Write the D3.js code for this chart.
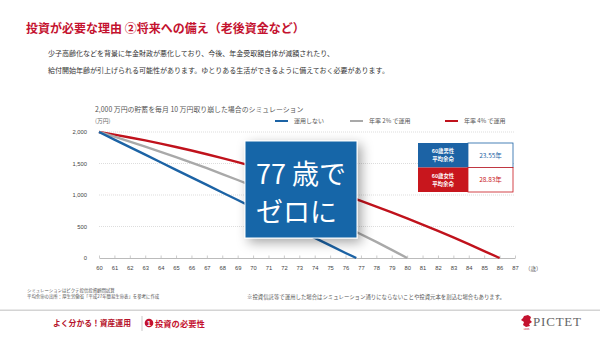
<!DOCTYPE html>
<html>
<head>
<meta charset="utf-8">
<script src="https://cdn.jsdelivr.net/npm/d3@7/dist/d3.min.js"></script>
<style>
  body { margin: 0; background: #fff; }
  svg { display: block; font-family: "Noto Sans CJK JP", "Noto Sans", sans-serif; }
</style>
</head>
<body>
<svg id="chart" width="600" height="338"></svg>
<script>
// ages on the x axis
var ageTicks = [60, 61, 62, 63, 64, 65, 66, 67, 68, 69, 70, 71, 72, 73, 74, 75, 76, 77, 78, 79, 80, 81, 82, 83, 84, 85, 86, 87];
var valueTicks = [0, 500, 1000, 1500, 2000];

// balance (万円) at each age from 60, last entry is where it hits zero
var noInvest = [2000, 1880, 1760, 1640, 1520, 1400, 1280, 1160, 1040, 920, 800, 680, 560, 440, 320, 200, 80, 0];
var noInvestEnd = 76.7;
var rate2 = [2000, 1925, 1848, 1768, 1686, 1602, 1515, 1425, 1333, 1238, 1140, 1040, 937, 831, 722, 610, 495, 377, 256, 130, 0];
var rate2End = 80;
var rate4 = [2000, 1958, 1913, 1866, 1815, 1762, 1706, 1647, 1586, 1521, 1454, 1384, 1311, 1236, 1157, 1076, 992, 905, 816, 723, 628, 530, 429, 326, 219, 110, 0];
var rate4End = 86;

var seriesNames = ["運用しない", "年率 2% で運用", "年率 4% で運用"];
var seriesColors = ["#1c63a5", "#a9a9a9", "#c0121c"];

var lifeLabels = [["60歳男性", "平均余命"], ["60歳女性", "平均余命"]];
var lifeValues = ["23.55年", "28.83年"];
var lifeColors = ["#1c63a5", "#c8161d"];

var svg = d3.select("#chart");

function toPoints(values, endAge) {
    return values.map(function(v, i) {
        return [i === values.length - 1 ? endAge : 60 + i, v];
    });
}
var series = [toPoints(noInvest, noInvestEnd), toPoints(rate2, rate2End), toPoints(rate4, rate4End)];

// header
svg.append("text")
    .attr("x", 26).attr("y", 33)
    .attr("fill", "#c4122f")
    .attr("font-size", 12)
    .attr("font-weight", "bold")
    .text("投資が必要な理由 ②将来への備え（老後資金など）");

svg.append("text")
    .attr("x", 48).attr("y", 56)
    .attr("fill", "#333").attr("font-size", 7)
    .text("少子高齢化などを背景に年金財政が悪化しており、今後、年金受取額自体が減額されたり、");
svg.append("text")
    .attr("x", 48).attr("y", 73)
    .attr("fill", "#333").attr("font-size", 7)
    .text("給付開始年齢が引上げられる可能性があります。ゆとりある生活ができるように備えておく必要があります。");

// chart
var x = d3.scaleLinear().domain([60, 87]).range([99, 515]);
var y = d3.scaleLinear().domain([0, 2000]).range([258, 132]);

svg.append("text")
    .attr("x", 95).attr("y", 112)
    .attr("fill", "#555").attr("font-size", 6.9)
    .text("2,000 万円の貯蓄を毎月 10 万円取り崩した場合のシミュレーション");
svg.append("text")
    .attr("x", 95).attr("y", 123)
    .attr("fill", "#666").attr("font-size", 5.8)
    .text("(万円)");

// legend
var legendX = [275, 350, 445];
var legend = svg.selectAll("g.legend")
    .data(seriesNames)
    .enter()
    .append("g")
    .attr("class", "legend")
    .attr("transform", function(d, i) { return "translate(" + legendX[i] + ",121)"; });
legend.append("line")
    .attr("x1", 0).attr("x2", 13)
    .attr("stroke", function(d, i) { return seriesColors[i]; })
    .attr("stroke-width", 2);
legend.append("text")
    .attr("x", 19).attr("y", 2.2)
    .attr("fill", "#555").attr("font-size", 6)
    .text(function(d) { return d; });

// grid lines
svg.selectAll("line.grid")
    .data(valueTicks.filter(function(d) { return d > 0; }))
    .enter()
    .append("line")
    .attr("class", "grid")
    .attr("x1", x(60)).attr("x2", x(87))
    .attr("y1", function(d) { return y(d); })
    .attr("y2", function(d) { return y(d); })
    .attr("stroke", "#cfcfcf")
    .attr("stroke-width", 0.7)
    .attr("stroke-dasharray", "1,1");

var yAxis = d3.axisLeft(y)
    .tickValues(valueTicks)
    .tickSize(0)
    .tickPadding(12)
    .tickFormat(d3.format(","));
var yAxisGroup = svg.append("g")
    .attr("transform", "translate(" + x(60) + ",0)")
    .call(yAxis);
yAxisGroup.select(".domain").remove();
yAxisGroup.selectAll("text")
    .attr("fill", "#444")
    .attr("font-size", 5.8)
    .attr("font-family", "Liberation Sans, Arial, sans-serif");

var xAxis = d3.axisBottom(x)
    .tickValues(ageTicks)
    .tickSizeInner(-2.5)
    .tickSizeOuter(0)
    .tickPadding(8);
var xAxisGroup = svg.append("g")
    .attr("transform", "translate(0," + y(0) + ")")
    .call(xAxis);
xAxisGroup.select(".domain").attr("stroke", "#aaa").attr("stroke-width", 0.8);
xAxisGroup.selectAll(".tick line").attr("stroke", "#aaa").attr("stroke-width", 0.6);
xAxisGroup.selectAll("text")
    .attr("fill", "#444")
    .attr("font-size", 5.8)
    .attr("font-family", "Liberation Sans, Arial, sans-serif");

svg.append("text")
    .attr("x", x(87) + 10).attr("y", y(0) + 12.5)
    .attr("fill", "#555").attr("font-size", 5.5)
    .text("（歳）");

// lines
var line = d3.line()
    .x(function(d) { return x(d[0]); })
    .y(function(d) { return y(d[1]); });

svg.selectAll("path.series")
    .data(series.slice().reverse())
    .enter()
    .append("path")
    .attr("class", "series")
    .attr("d", line)
    .attr("fill", "none")
    .attr("stroke", function(d, i) { return seriesColors[2 - i]; })
    .attr("stroke-width", 2.4);

// life expectancy table
var table = svg.selectAll("g.life")
    .data(lifeValues)
    .enter()
    .append("g")
    .attr("class", "life")
    .attr("transform", function(d, i) { return "translate(418," + (143 + i * 24.5) + ")"; });
table.append("rect")
    .attr("x", 50).attr("width", 45).attr("height", 24.5)
    .attr("fill", "#fff")
    .attr("stroke", function(d, i) { return lifeColors[i]; })
    .attr("stroke-width", 0.8);
table.append("rect")
    .attr("width", 50).attr("height", 24.5)
    .attr("fill", function(d, i) { return lifeColors[i]; });
table.each(function(d, i) {
    d3.select(this).selectAll("text.lbl")
        .data(lifeLabels[i])
        .enter()
        .append("text")
        .attr("class", "lbl")
        .attr("x", 25)
        .attr("y", function(t, j) { return 10 + j * 8; })
        .attr("text-anchor", "middle")
        .attr("fill", "#fff")
        .attr("font-size", 5.4)
        .attr("font-weight", "bold")
        .text(function(t) { return t; });
});
table.append("text")
    .attr("x", 72.5).attr("y", 14.5)
    .attr("text-anchor", "middle")
    .attr("fill", function(d, i) { return lifeColors[i]; })
    .attr("font-size", 6.5)
    .text(function(d) { return d; });

// callout box
var defs = svg.append("defs");
var shadow = defs.append("filter")
    .attr("id", "shadow")
    .attr("x", "-30%").attr("y", "-30%")
    .attr("width", "160%").attr("height", "160%");
shadow.append("feDropShadow")
    .attr("dx", 4).attr("dy", 4)
    .attr("stdDeviation", 6)
    .attr("flood-color", "#000")
    .attr("flood-opacity", 0.35);

svg.append("rect")
    .attr("x", 245).attr("y", 141)
    .attr("width", 112).attr("height", 97)
    .attr("fill", "#1266a8")
    .attr("stroke", "#fff")
    .attr("stroke-width", 1)
    .attr("filter", "url(#shadow)");
svg.append("text")
    .attr("x", 256).attr("y", 184)
    .attr("fill", "#fff").attr("font-size", 27)
    .text("77 歳で");
svg.append("text")
    .attr("x", 256).attr("y", 222)
    .attr("fill", "#fff").attr("font-size", 27)
    .text("ゼロに");

// footnotes
svg.append("text")
    .attr("x", 27).attr("y", 292)
    .attr("fill", "#555").attr("font-size", 4.4)
    .text("シミュレーションはピクテ投信投資顧問試算");
svg.append("text")
    .attr("x", 27).attr("y", 298)
    .attr("fill", "#555").attr("font-size", 4.4)
    .text("平均余命の出所：厚生労働省「平成27年簡易生命表」を参考に作成");
svg.append("text")
    .attr("x", 247).attr("y", 299)
    .attr("fill", "#555").attr("font-size", 5.4)
    .text("※投資信託等で運用した場合はシミュレーション通りにならないことや投資元本を割込む場合もあります。");

// footer
svg.append("rect")
    .attr("x", 0).attr("y", 309.5)
    .attr("width", 600).attr("height", 1.5)
    .attr("fill", "#d4d4d4");
svg.append("text")
    .attr("x", 53).attr("y", 326)
    .attr("fill", "#b5122a").attr("font-size", 7.8)
    .attr("font-weight", "bold")
    .text("よく分かる！資産運用");
svg.append("line")
    .attr("x1", 142).attr("x2", 142)
    .attr("y1", 316).attr("y2", 331)
    .attr("stroke", "#bbb").attr("stroke-width", 0.8);
svg.append("circle")
    .attr("cx", 149).attr("cy", 323)
    .attr("r", 4.3)
    .attr("fill", "#c4122f");
svg.append("text")
    .attr("x", 149).attr("y", 325.6)
    .attr("text-anchor", "middle")
    .attr("fill", "#fff").attr("font-size", 6.8)
    .attr("font-weight", "bold")
    .attr("font-family", "Liberation Sans, Arial, sans-serif")
    .text("1");
svg.append("text")
    .attr("x", 155).attr("y", 326.5)
    .attr("fill", "#c4122f").attr("font-size", 8.3)
    .attr("font-weight", "bold")
    .text("投資の必要性");

// logo
var logo = svg.append("g").attr("transform", "translate(521,315)");
logo.append("path")
    .attr("d", "M3,1 L7,0 L10,2 L9,5 L11,7 L8,9 L9,11 L5,12 L2,10 L3,7 L0,5 L2,3 Z")
    .attr("fill", "#c4122f");
logo.append("text")
    .attr("x", 5.5).attr("y", 15)
    .attr("text-anchor", "middle")
    .attr("fill", "#c4122f").attr("font-size", 2.6)
    .text("1805");
svg.append("text")
    .attr("x", 533).attr("y", 326)
    .attr("fill", "#666").attr("font-size", 13)
    .attr("letter-spacing", 0.8)
    .attr("font-family", "Liberation Serif, serif")
    .text("PICTET");
</script>
</body>
</html>
